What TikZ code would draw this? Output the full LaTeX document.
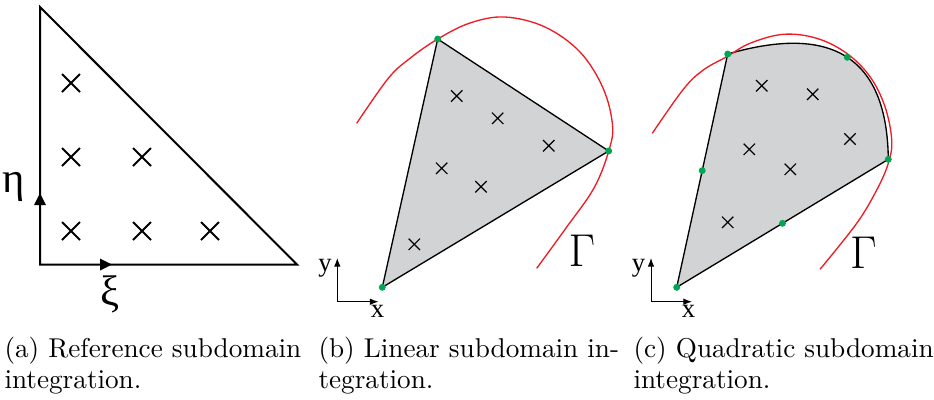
\documentclass[tikz,border=0pt]{standalone}
\usepackage{fontspec}
\newfontfamily\grk{Liberation Serif}
\usetikzlibrary{shapes.misc,arrows.meta,calc}
\definecolor{gfill}{RGB}{209,211,212}
\definecolor{gdot}{RGB}{0,166,81}
\definecolor{rcurve}{RGB}{237,28,36}
\begin{document}
\begin{tikzpicture}[x=0.375pt,y=-0.375pt,
  crossA/.style={cross out,draw,minimum size=6pt,inner sep=0pt,line width=0.75pt},
  crossB/.style={cross out,draw,minimum size=3.8pt,inner sep=0pt,line width=0.45pt},
  gdotn/.style={circle,fill=gdot,minimum size=2.6pt,inner sep=0pt},
  edgeA/.style={line width=0.75pt,line join=miter},
  edgeB/.style={line width=0.5pt,line join=miter},
  bnd/.style={rcurve,line width=0.5pt},
  axisarr/.style={line width=0.35pt,-{Latex[length=3.2pt,width=2.4pt]}},
  captext/.style={anchor=base west,inner sep=0pt,font=\fontsize{10.2}{12}\selectfont},
  axlab/.style={inner sep=0pt,font=\grk\fontsize{10}{12}\selectfont},
  greeklab/.style={inner sep=0pt,font=\grk\fontsize{16}{19}\selectfont},
  gammalab/.style={inner sep=0pt,font=\fontsize{17}{20}\selectfont}
]
\useasboundingbox (0,0) rectangle (934,399);

% ---------- panel (a) ----------
\coordinate (at) at (40,7);
\coordinate (abl) at (40,264.5);
\coordinate (abr) at (297,264.5);
\draw[edgeA] (at) -- (abl) -- (abr) -- cycle;
\fill (40,193) -- (46,205) -- (34,205) -- cycle;
\fill (112,264.5) -- (100,258.5) -- (100,270.5) -- cycle;
\node[greeklab] (eta) at (14,187) {η};
\node[greeklab] (xi) at (110,294) {ξ};
\node[crossA] (a1) at (71,83) {};
\node[crossA] (a2) at (71,157) {};
\node[crossA] (a3) at (142,157) {};
\node[crossA] (a4) at (71,231) {};
\node[crossA] (a5) at (142,231) {};
\node[crossA] (a6) at (210,231) {};

% ---------- panel (b) ----------
\coordinate (b1) at (382.3,287.3);
\coordinate (b2) at (437.7,39);
\coordinate (b3) at (608.7,151);
\fill[gfill] (b1) -- (b2) -- (b3) -- cycle;
\draw[edgeB] (b1) -- (b2) -- (b3) -- cycle;
\draw[bnd] plot[smooth,tension=0.6] coordinates {(356.7,123.3) (388.3,78.3) (410,58.3) (437.7,39) (470,23) (505,17) (545,27) (580,52) (603,88) (612.5,125) (608.7,151) (594,188) (566,228) (536.7,268.3)};
\node[crossB] (b4) at (456.7,96) {};
\node[crossB] (b5) at (497.7,118.3) {};
\node[crossB] (b6) at (548.7,145.7) {};
\node[crossB] (b7) at (441.7,168.3) {};
\node[crossB] (b8) at (481,186.7) {};
\node[crossB] (b9) at (414.3,244.3) {};
\node[gdotn] (db1) at (b1) {};
\node[gdotn] (db2) at (b2) {};
\node[gdotn] (db3) at (b3) {};
\node[gammalab] (gb) at (582,251) {$\Gamma$};
\coordinate (bo) at (337.3,301.7);
\coordinate (by) at (337.3,258);
\coordinate (bx) at (378.5,301.7);
\draw[axisarr] (bo) -- (by);
\draw[axisarr] (bo) -- (bx);
\node[axlab] (bylab) at (325,268) {y};
\node[axlab] (bxlab) at (377.5,311) {x};

% ---------- panel (c) ----------
\coordinate (c1) at (676.7,287.3);
\coordinate (c2) at (727.7,54);
\coordinate (c3) at (888.3,159.3);
\fill[gfill] (c1) -- (c2) .. controls (833.6,23.3) and (887.2,58.4) .. (c3) -- cycle;
\draw[edgeB] (c1) -- (c2) .. controls (833.6,23.3) and (887.2,58.4) .. (c3) -- cycle;
\draw[bnd] plot[smooth,tension=0.6] coordinates {(652.3,133.3) (683.3,89.3) (703.3,70) (726.7,56.7) (750,43.3) (783.3,34.3) (816.7,38.3) (846.7,53.3) (870,76.7) (885,106.7) (891.7,140) (888.3,163.3) (876.7,190) (856.7,223.3) (820,269.3)};
\node[crossB] (c4) at (761.7,85.7) {};
\node[crossB] (c5) at (812.7,94.3) {};
\node[crossB] (c6) at (850,139) {};
\node[crossB] (c7) at (749.3,149.3) {};
\node[crossB] (c8) at (790.3,169.3) {};
\node[crossB] (c9) at (727.7,222.3) {};
\node[gdotn] (dc1) at (c1) {};
\node[gdotn] (dc2) at (c2) {};
\node[gdotn] (dc3) at (c3) {};
\node[gdotn] (dc4) at (847.3,57.3) {};
\node[gdotn] (dc5) at ($(c1)!0.5!(c2)$) {};
\node[gdotn] (dc6) at ($(c1)!0.5!(c3)$) {};
\node[gammalab] (gc) at (863.3,253) {$\Gamma$};
\coordinate (co) at (651,301.7);
\coordinate (cy) at (651,258);
\coordinate (cx) at (692,301.7);
\draw[axisarr] (co) -- (cy);
\draw[axisarr] (co) -- (cx);
\node[axlab] (cylab) at (638.5,268) {y};
\node[axlab] (cxlab) at (688.5,311) {x};

% ---------- captions ----------
\node[captext] (capa1) at (4,357) {(a) Reference subdomain};
\node[captext] (capa2) at (4,388) {integration.};
\node[captext] (capb1) at (318,357) {(b) Linear subdomain in-};
\node[captext] (capb2) at (318,388) {tegration.};
\node[captext] (capc1) at (633,357) {(c) Quadratic subdomain};
\node[captext] (capc2) at (633,388) {integration.};
\end{tikzpicture}
\end{document}
